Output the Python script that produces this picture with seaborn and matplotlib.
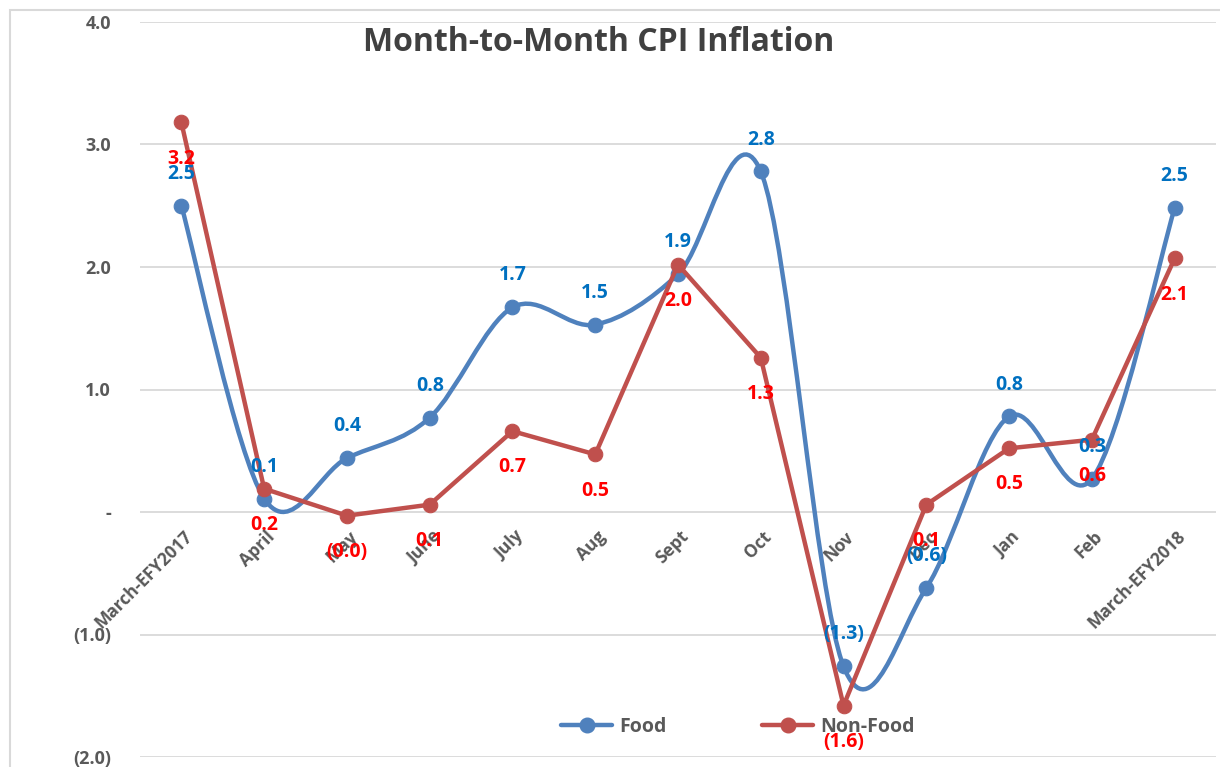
import numpy as np
import pandas as pd
import matplotlib
matplotlib.use('Agg')
import matplotlib.pyplot as plt
import matplotlib.transforms as mtransforms
from matplotlib.path import Path
from matplotlib.patches import PathPatch, Rectangle
from matplotlib.lines import Line2D
import seaborn as sns

# data
months = ['March-EFY2017', 'April', 'May', 'June', 'July', 'Aug', 'Sept',
          'Oct', 'Nov', 'Dec', 'Jan', 'Feb', 'March-EFY2018']
food = [2.50, 0.11, 0.44, 0.77, 1.67, 1.53, 1.94, 2.78, -1.26, -0.62, 0.78, 0.27, 2.48]
non_food = [3.18, 0.19, -0.03, 0.06, 0.66, 0.47, 2.02, 1.26, -1.58, 0.06, 0.52, 0.59, 2.07]
y_ticks = [-2, -1, 0, 1, 2, 3, 4]
y_tick_labels = ['(2.0)', '(1.0)', '-', '1.0', '2.0', '3.0', '4.0']

food_col = '#4F81BD'
nonfood_col = '#C0504D'
gray = '#595959'

sns.set_style('white')
plt.rcParams['font.family'] = ['Open Sans', 'DejaVu Sans']

df = pd.DataFrame({'pos': np.arange(len(months)), 'Food': food, 'Non-Food': non_food})

fig = plt.figure(figsize=(12.2, 7.67), dpi=100)
ax = fig.add_axes([140 / 1220, 10 / 767, 1076 / 1220, 735 / 767])

# chart border
fig.patches.append(Rectangle((10 / 1220, -0.1), 1.2, 0.987 + 0.1, transform=fig.transFigure,
                             fill=False, edgecolor='#D9D9D9', linewidth=1.5))


def fmt(v):
    return f'({abs(v):.1f})' if v < 0 else f'{v:.1f}'


# smoothed Food line (excel-style bezier through the points)
pts = list(zip(df['pos'], df['Food']))
verts = [pts[0]]
codes = [Path.MOVETO]
for i in range(len(pts) - 1):
    p0 = np.array(pts[max(i - 1, 0)])
    p1 = np.array(pts[i])
    p2 = np.array(pts[i + 1])
    p3 = np.array(pts[min(i + 2, len(pts) - 1)])
    c1 = p1 + (p2 - p0) / 6
    c2 = p2 - (p3 - p1) / 6
    verts += [tuple(c1), tuple(c2), tuple(p2)]
    codes += [Path.CURVE4] * 3
ax.add_patch(PathPatch(Path(verts, codes), fill=False, edgecolor=food_col,
                       linewidth=3.2, capstyle='round', zorder=3))
sns.scatterplot(data=df, x='pos', y='Food', ax=ax, color=food_col, s=110,
                edgecolor=food_col, zorder=4, legend=False)

sns.lineplot(data=df, x='pos', y='Non-Food', ax=ax, color=nonfood_col, linewidth=3.2,
             marker='o', markersize=10.5, markeredgecolor=nonfood_col, zorder=5, legend=False)

# data labels
for x, v in zip(df['pos'], df['Food']):
    ax.annotate(fmt(v), (x, v), xytext=(0, 23), textcoords='offset points',
                ha='center', va='center', color='#0070C0', fontsize=14,
                fontweight='bold', zorder=6)
for x, v in zip(df['pos'], df['Non-Food']):
    ax.annotate(fmt(v), (x, v), xytext=(0, -26), textcoords='offset points',
                ha='center', va='center', color='#FF0000', fontsize=14,
                fontweight='bold', zorder=6)

ax.set_xlim(-0.5, len(months) - 0.5)
ax.set_ylim(-2, 4)
ax.set_yticks(y_ticks)
ax.set_yticklabels(y_tick_labels, color=gray, fontsize=13, fontweight='bold')
ax.tick_params(axis='y', length=0, pad=21)
ax.set_xticks([])
ax.set_xlabel('')
ax.set_ylabel('')
ax.grid(axis='y', color='#D9D9D9', linewidth=1.3)
for s in ax.spines.values():
    s.set_visible(False)

# category labels sit along the zero line
off = mtransforms.offset_copy(ax.transData, fig=fig, x=8, y=-22, units='dots')
for i, m in enumerate(months):
    ax.text(i, 0, m, transform=off, rotation=45, rotation_mode='anchor',
            ha='right', va='center', color=gray, fontsize=12.5, fontweight='bold', zorder=2)

fig.text(0.491, 0.945, 'Month-to-Month CPI Inflation', ha='center', va='center',
         fontsize=23, fontweight='bold', color='#404040')

handles = [Line2D([], [], color=food_col, linewidth=3.2, marker='o', markersize=10.5),
           Line2D([], [], color=nonfood_col, linewidth=3.2, marker='o', markersize=10.5)]
ax.legend(handles, ['Food', 'Non-Food'], loc='center', bbox_to_anchor=(0.556, 0.041),
          ncol=2, frameon=False, handlelength=2.6, handletextpad=0.4, columnspacing=4.9,
          prop={'weight': 'bold', 'size': 14}, labelcolor=gray)

fig.savefig('out.png', dpi=100)
